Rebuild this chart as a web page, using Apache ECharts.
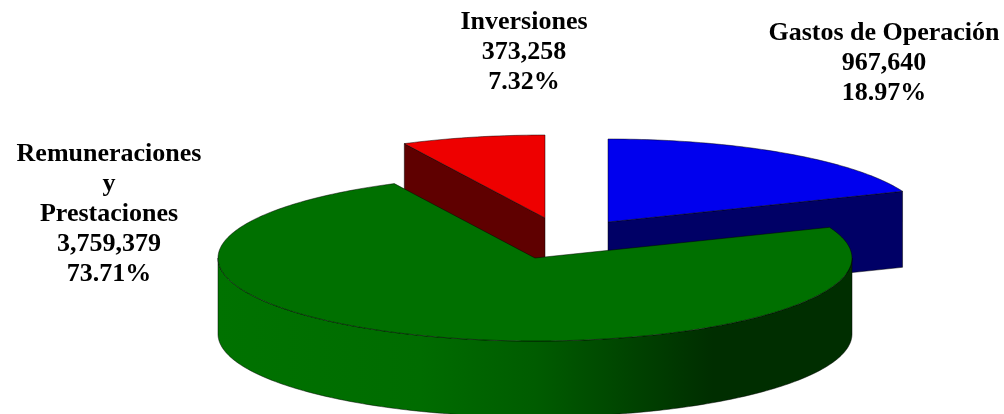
<!DOCTYPE html>
<html>
<head>
<meta charset="utf-8">
<style>
html, body { margin: 0; padding: 0; background: #ffffff; }
#chart { width: 1004px; height: 414px; }
</style>
<script src="https://cdn.jsdelivr.net/npm/echarts@6/dist/echarts.min.js"></script>
</head>
<body>
<div id="chart"></div>
<script>
// data, clockwise from 12 o'clock
const categories = ['Gastos de Operación', 'Remuneraciones\ny\nPrestaciones', 'Inversiones'];
const amounts = [967640, 3759379, 373258];
const percents = ['18.97%', '73.71%', '7.32%'];

// layout of the pie, one entry per slice
const centers = [[608, 222], [535, 258], [545, 218]];
const labelPos = [[884, 33], [109, 154], [524, 22]];
const drawOrder = [1, 3, 2];
const radiusX = 317;
const radiusY = 83;
const depth = 76;

const topColors = ['#0000ee', '#007000', '#ee0000'];
const wallColors = ['#000066', '#007000', '#5f0000'];
const edgeColor = 'rgba(0,0,0,0.6)';
const labelFont = 'bold 26px "Liberation Serif", "Times New Roman", serif';

const total = amounts.reduce((a, b) => a + b, 0);

function rimPoint(center, deg, drop = 0) {
    const rad = deg * Math.PI / 180;
    return [center[0] + radiusX * Math.sin(rad), center[1] - radiusY * Math.cos(rad) + drop];
}

function arcPoints(center, from, to, drop = 0) {
    const pts = [];
    for (let d = from; d < to; d += 1) pts.push(rimPoint(center, d, drop));
    pts.push(rimPoint(center, to, drop));
    return pts;
}

function shape(points, fill, z2) {
    return {
        type: 'polygon',
        z2: z2,
        shape: { points: points },
        style: { fill: fill, stroke: edgeColor, lineWidth: 0.8 }
    };
}

function renderSlice(params) {
    const i = params.dataIndex;
    const before = amounts.slice(0, i).reduce((a, b) => a + b, 0);
    const start = before / total * 360;
    const end = (before + amounts[i]) / total * 360;
    const center = centers[i];
    const bottom = [center[0], center[1] + depth];
    const z = drawOrder[i] * 10;
    const children = [];

    // radial wall, only where it faces the viewer
    if (end < 90) {
        const rim = rimPoint(center, end);
        children.push(shape([center, rim, [rim[0], rim[1] + depth], bottom], wallColors[i], z));
    }
    if (start > 270) {
        const rim = rimPoint(center, start);
        children.push(shape([center, rim, [rim[0], rim[1] + depth], bottom], wallColors[i], z));
    }

    // outer wall on the front half
    const wallFrom = Math.max(start, 90);
    const wallTo = Math.min(end, 270);
    if (wallFrom < wallTo) {
        const front = arcPoints(center, wallFrom, wallTo);
        const under = arcPoints(center, wallFrom, wallTo, depth).reverse();
        const fill = new echarts.graphic.LinearGradient(1, 0, 0, 0, [
            { offset: 0, color: '#002e00' },
            { offset: 0.22, color: '#002e00' },
            { offset: 0.5, color: '#005c00' },
            { offset: 0.68, color: '#006c00' },
            { offset: 1, color: '#007200' }
        ]);
        children.push(shape(front.concat(under), fill, z + 1));
    }

    // top face
    children.push(shape([center].concat(arcPoints(center, start, end)), topColors[i], z + 2));

    // label
    const lines = categories[i].split('\n').concat(amounts[i].toLocaleString('en-US'), percents[i]);
    lines.forEach((line, n) => {
        children.push({
            type: 'text',
            z2: 100,
            style: {
                text: line,
                x: labelPos[i][0],
                y: labelPos[i][1] + n * 30,
                textAlign: 'center',
                textVerticalAlign: 'middle',
                fill: '#000000',
                font: labelFont
            }
        });
    });

    return { type: 'group', children: children };
}

const chart = echarts.init(document.getElementById('chart'));
chart.setOption({
    backgroundColor: '#ffffff',
    animation: false,
    series: [{
        type: 'custom',
        coordinateSystem: 'none',
        renderItem: renderSlice,
        data: amounts.map((v, i) => ({ value: v, name: categories[i] }))
    }]
});
</script>
</body>
</html>
